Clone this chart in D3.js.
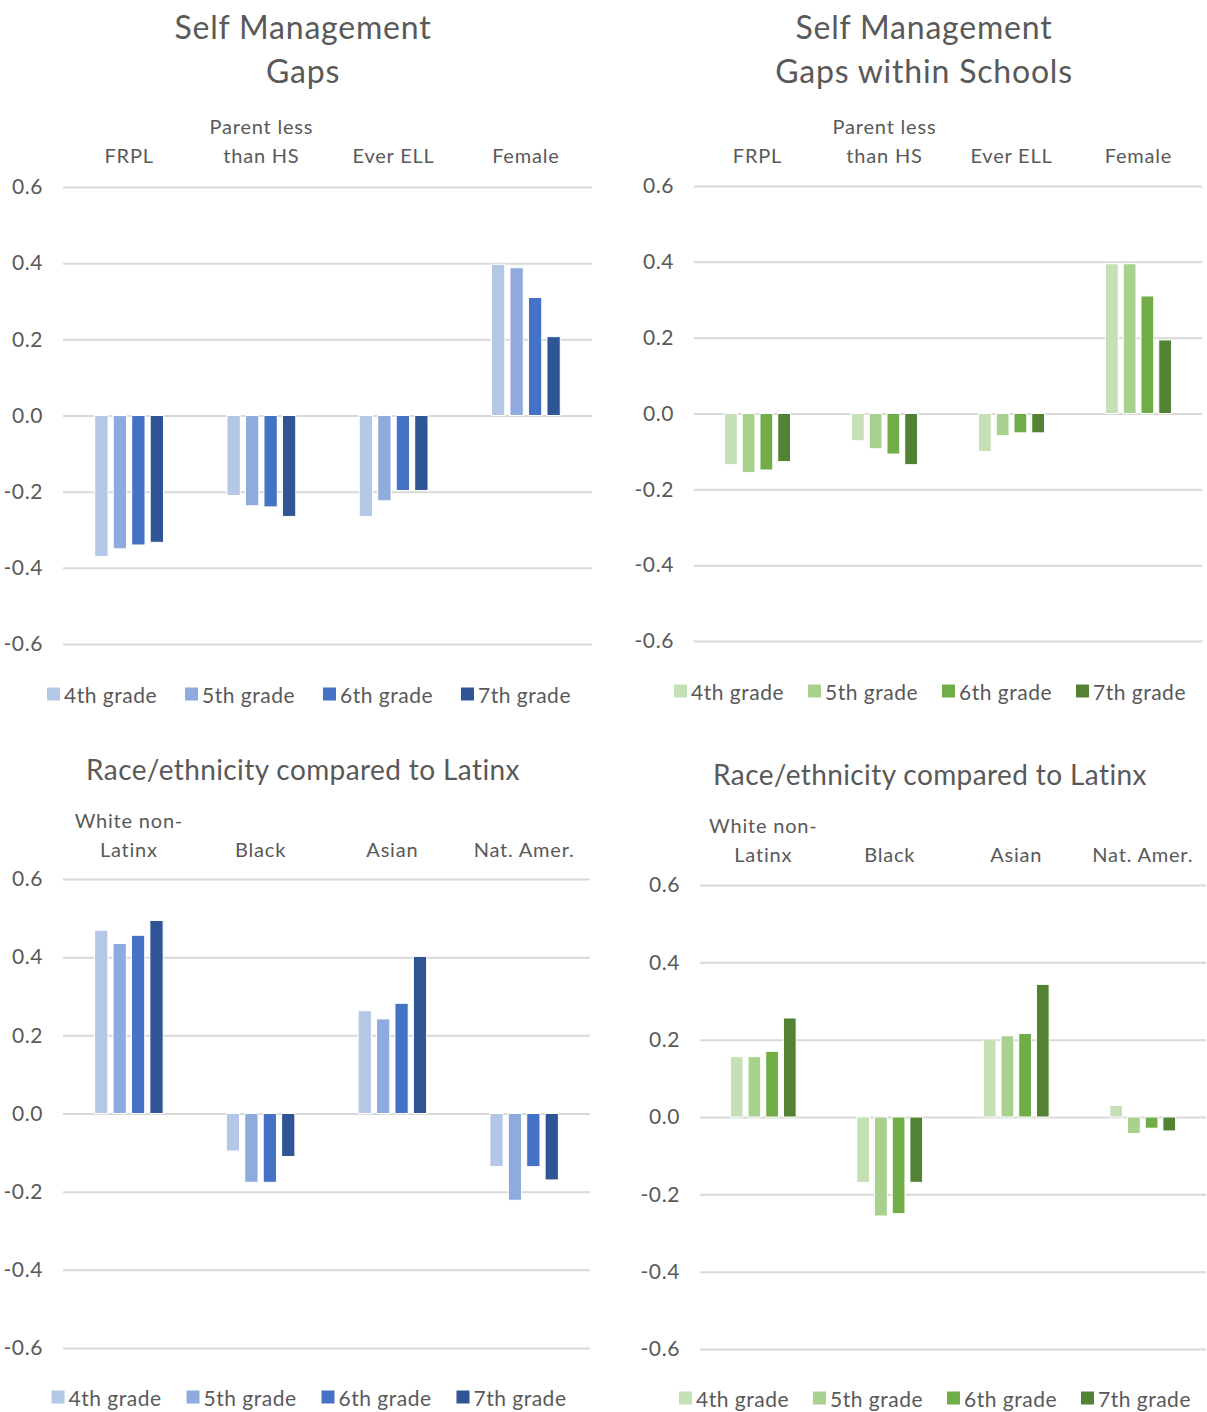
<!DOCTYPE html>
<html>
<head>
<meta charset="utf-8">
<script src="https://cdn.jsdelivr.net/npm/d3@7"></script>
<style>
  body { margin: 0; background: #fff; }
  text { font-family: Lato, "Open Sans", sans-serif; fill: #595959; }
</style>
</head>
<body>
<svg id="chart" width="1207" height="1412"></svg>
<script>
// Grade series shared by all four panels
const grades = ["4th grade", "5th grade", "6th grade", "7th grade"];
const blueColors = ["#B4C7E7", "#8FAADC", "#4472C4", "#2F5597"];
const greenColors = ["#C5E0B4", "#A9D18E", "#70AD47", "#548235"];
const yTicks = [0.6, 0.4, 0.2, 0.0, -0.2, -0.4, -0.6];

// Gap categories (top row)
const gapCategories = [["FRPL"], ["Parent less", "than HS"], ["Ever ELL"], ["Female"]];
// Self management gaps, one array per grade (FRPL, Parent<HS, Ever ELL, Female)
const gap4 = [-0.37, -0.21, -0.265, 0.397];
const gap5 = [-0.35, -0.237, -0.224, 0.388];
const gap6 = [-0.34, -0.24, -0.197, 0.31];
const gap7 = [-0.333, -0.265, -0.197, 0.207];
// Gaps within schools
const gapWithin4 = [-0.135, -0.072, -0.1, 0.395];
const gapWithin5 = [-0.156, -0.093, -0.058, 0.395];
const gapWithin6 = [-0.149, -0.107, -0.051, 0.31];
const gapWithin7 = [-0.127, -0.135, -0.051, 0.194];

// Race/ethnicity categories (bottom row)
const raceCategories = [["White non-", "Latinx"], ["Black"], ["Asian"], ["Nat. Amer."]];
const race4 = [0.469, -0.096, 0.263, -0.136];
const race5 = [0.435, -0.176, 0.242, -0.222];
const race6 = [0.456, -0.176, 0.282, -0.136];
const race7 = [0.494, -0.11, 0.402, -0.17];
const raceWithin4 = [0.156, -0.169, 0.202, 0.03];
const raceWithin5 = [0.156, -0.256, 0.21, -0.043];
const raceWithin6 = [0.17, -0.25, 0.216, -0.029];
const raceWithin7 = [0.256, -0.169, 0.343, -0.036];

const svg = d3.select("#chart");

function drawPanel(p) {
  const g = svg.append("g");
  const catIdx = p.categories.map((_, i) => i);

  const x = d3.scaleBand().domain(catIdx).range([p.left, p.right]).padding(0);
  const half = x.bandwidth() * 0.26;
  const xInner = d3.scaleBand().domain(grades).range([-half, half]).paddingInner(0.28).paddingOuter(0);
  const y = d3.scaleLinear().domain([-0.6, 0.6]).range([p.bottom, p.top]);

  // Title
  p.title.forEach((line, i) => {
    g.append("text")
      .attr("x", p.titleX).attr("y", p.titleY + i * 44)
      .attr("text-anchor", "middle").attr("dominant-baseline", "central")
      .style("font-size", p.titleSize + "px")
      .style("letter-spacing", p.titleSpacing + "px")
      .text(line);
  });

  // Gridlines and value axis
  const axis = d3.axisLeft(y)
    .tickValues(yTicks)
    .tickSize(-(p.right - p.left))
    .tickPadding(20)
    .tickFormat(d => d.toFixed(1));
  const ax = g.append("g").attr("transform", `translate(${p.left},0)`).call(axis);
  ax.select(".domain").remove();
  ax.selectAll(".tick line").attr("stroke", "#D9D9D9").attr("stroke-width", 2);
  ax.selectAll(".tick text")
    .style("font-family", "Lato, 'Open Sans', sans-serif")
    .style("font-size", "21px").style("letter-spacing", "0.6px").style("fill", "#595959");

  // Category labels above the plot
  p.categories.forEach((lines, i) => {
    const cx = x(i) + x.bandwidth() / 2;
    const n = lines.length;
    lines.forEach((line, j) => {
      g.append("text")
        .attr("x", cx).attr("y", p.catY - (n - 1 - j) * 29)
        .attr("text-anchor", "middle").attr("dominant-baseline", "central")
        .style("font-size", "20px").style("letter-spacing", "0.8px")
        .text(line);
    });
  });

  // Bars
  const rows = [];
  p.series.forEach((vals, s) => {
    vals.forEach((v, i) => rows.push({ cat: i, grade: grades[s], color: p.colors[s], value: v }));
  });
  g.append("g").selectAll("rect").data(rows).join("rect")
    .attr("x", d => x(d.cat) + x.bandwidth() / 2 + xInner(d.grade))
    .attr("width", xInner.bandwidth())
    .attr("y", d => y(Math.max(0, d.value)))
    .attr("height", d => Math.abs(y(d.value) - y(0)))
    .attr("fill", d => d.color)
    .attr("stroke", "#fff").attr("stroke-width", 1);

  // Legend
  const leg = g.append("g");
  const items = leg.selectAll("g").data(grades).join("g");
  items.append("rect").attr("width", 13).attr("height", 13).attr("y", -6.5)
    .attr("fill", (d, i) => p.colors[i]);
  items.append("text").attr("x", 17).attr("dominant-baseline", "central")
    .style("font-size", "21px").style("letter-spacing", "0.5px").text(d => d);
  let cursor = 0;
  items.each(function () {
    d3.select(this).attr("transform", `translate(${cursor},0)`);
    cursor += this.getBBox().width + p.legendGap;
  });
  const total = cursor - p.legendGap;
  leg.attr("transform", `translate(${p.legendX - total / 2},${p.legendY})`);
}

drawPanel({
  title: ["Self Management", "Gaps"], titleX: 303, titleY: 26, titleSize: 32, titleSpacing: 0.8,
  categories: gapCategories, series: [gap4, gap5, gap6, gap7], colors: blueColors,
  left: 63, right: 592, top: 187, bottom: 644, catY: 155,
  legendX: 309, legendY: 694, legendGap: 28
});
drawPanel({
  title: ["Self Management", "Gaps within Schools"], titleX: 924, titleY: 26, titleSize: 32, titleSpacing: 0.8,
  categories: gapCategories, series: [gapWithin4, gapWithin5, gapWithin6, gapWithin7], colors: greenColors,
  left: 694, right: 1202, top: 186, bottom: 641, catY: 155,
  legendX: 930, legendY: 691, legendGap: 24
});
drawPanel({
  title: ["Race/ethnicity compared to Latinx"], titleX: 303, titleY: 769, titleSize: 28, titleSpacing: 0.4,
  categories: raceCategories, series: [race4, race5, race6, race7], colors: blueColors,
  left: 63, right: 590, top: 879, bottom: 1348, catY: 849,
  legendX: 309, legendY: 1397, legendGap: 25
});
drawPanel({
  title: ["Race/ethnicity compared to Latinx"], titleX: 930, titleY: 774, titleSize: 28, titleSpacing: 0.4,
  categories: raceCategories, series: [raceWithin4, raceWithin5, raceWithin6, raceWithin7], colors: greenColors,
  left: 700, right: 1206, top: 885, bottom: 1349, catY: 854,
  legendX: 935, legendY: 1398, legendGap: 24
});
</script>
</body>
</html>
